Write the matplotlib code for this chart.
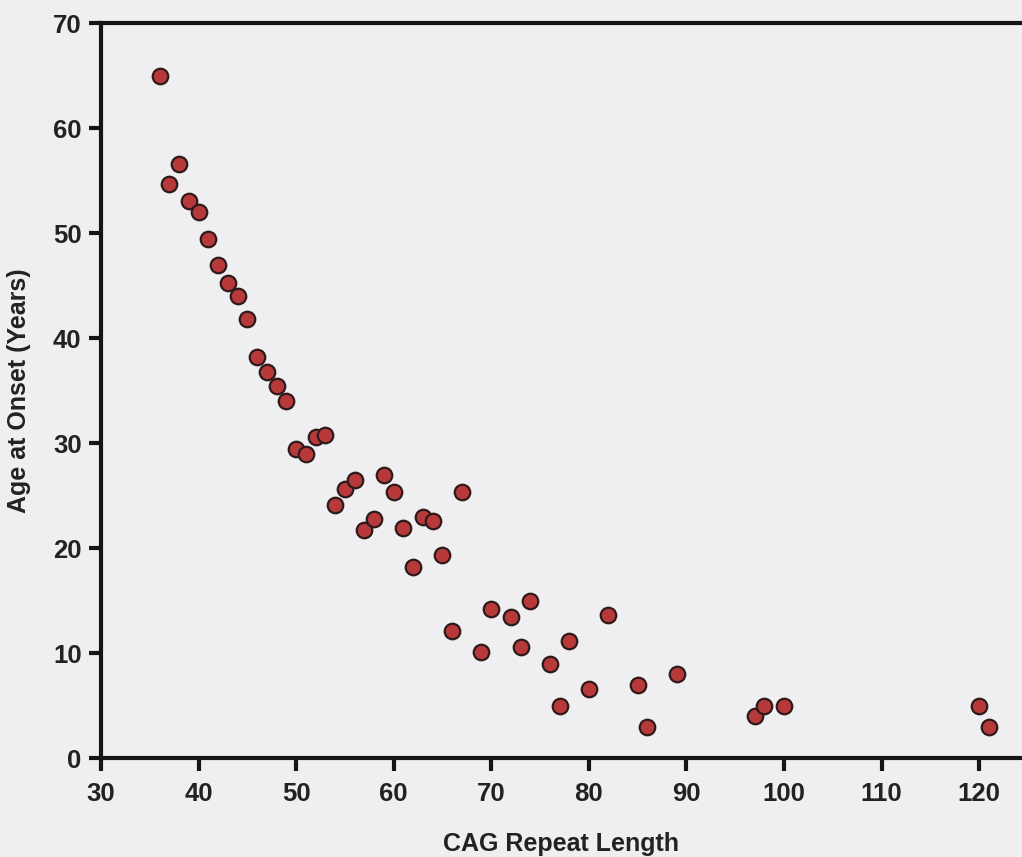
import numpy as np
import matplotlib.pyplot as plt

# CAG repeat length vs age at onset
cag = [36, 37, 38, 39, 40, 41, 42, 43, 44, 45, 46, 47, 48, 49, 50, 51, 52, 53,
       54, 55, 56, 57, 58, 59, 60, 61, 62, 63, 64, 65, 66, 67, 69, 70, 72, 73,
       74, 76, 77, 78, 80, 82, 85, 86, 89, 97, 98, 100, 120, 121]
onset = [65.0, 54.7, 56.6, 53.1, 52.0, 49.4, 47.0, 45.2, 44.0, 41.8, 38.2, 36.8,
         35.4, 34.0, 29.4, 29.0, 30.6, 30.8, 24.1, 25.6, 26.5, 21.7, 22.8, 27.0,
         25.3, 21.9, 18.2, 23.0, 22.6, 19.3, 12.1, 25.3, 10.1, 14.2, 13.4, 10.6,
         15.0, 9.0, 5.0, 11.1, 6.6, 13.6, 7.0, 3.0, 8.0, 4.0, 5.0, 5.0, 5.0, 3.0]

plt.rcParams['font.family'] = ['Liberation Sans', 'DejaVu Sans']
plt.rcParams['font.weight'] = 'bold'

bg = '#efeff1'
fig = plt.figure(figsize=(10.22, 8.57), dpi=100, facecolor=bg)
ax = fig.add_axes([0.0988, 0.1155, 0.9012, 0.8575], facecolor=bg)

ax.scatter(cag, onset, s=125, color='#b8393a', edgecolor='#2e1a1a', linewidth=1.6,
           zorder=3, clip_on=False)

ax.set_xlim(30, 124.4)
ax.set_ylim(0, 70)
ax.set_xticks(np.arange(30, 121, 10))
ax.set_yticks(np.arange(0, 71, 10))

for s in ['left', 'top', 'bottom']:
    ax.spines[s].set_linewidth(3)
    ax.spines[s].set_color('#151515')
ax.spines['right'].set_visible(False)

ax.tick_params(axis='both', width=3, length=9, color='#151515', labelsize=18.5,
               labelcolor='#222222')
ax.tick_params(axis='x', pad=8)
ax.tick_params(axis='y', pad=5)

ax.set_xlabel('CAG Repeat Length', fontsize=18, fontweight='bold', color='#222222',
              labelpad=19)
ax.set_ylabel('Age at Onset (Years)', fontsize=18, fontweight='bold', color='#222222',
              labelpad=16)

fig.savefig('out.png', dpi=100, facecolor=bg)
